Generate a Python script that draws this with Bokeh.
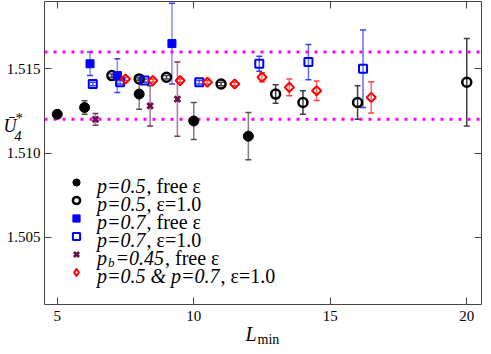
from bokeh.plotting import figure
from bokeh.models import (ColumnDataSource, Whisker, TeeHead, Label, Legend,
                          LegendItem, LinearAxis, FixedTicker, PrintfTickFormatter,
                          CustomJSTickFormatter, Range1d)
from bokeh.core.properties import value
from bokeh.embed import file_html
from bokeh.resources import INLINE
import math

# ---------------- data ----------------
p05_free_L = [5.0, 6.0, 8.0, 10.0, 12.0]
p05_free_U = [1.5123, 1.5127, 1.5135, 1.5119, 1.5110]
p05_free_E = [0.0001, 0.0004, 0.0009, 0.0011, 0.0014]

p05_e1_L = [7.0, 8.0, 9.0, 11.0, 13.0, 14.0, 16.0, 20.0]
p05_e1_U = [1.5146, 1.5144, 1.5145, 1.5141, 1.5135, 1.5130, 1.5130, 1.5142]
p05_e1_E = [0.0001, 0.0001, 0.0001, 0.0001, 0.00055, 0.0007, 0.0010, 0.0026]

p07_free_L = [6.2, 7.2, 9.2]
p07_free_U = [1.5153, 1.5146, 1.5165]
p07_free_E = [0.0007, 0.0010, 0.0024]

p07_e1_L = [6.3, 7.3, 8.2, 10.2, 12.4, 14.2, 16.2]
p07_e1_U = [1.5141, 1.5142, 1.5143, 1.5142, 1.5153, 1.5154, 1.5150]
p07_e1_E = [0.0001, 0.0001, 0.0001, 0.0001, 0.00045, 0.00105, 0.0023]

pb045_L = [6.4, 8.4, 9.4]
pb045_U = [1.5120, 1.5128, 1.5132]
pb045_E = [0.00035, 0.0012, 0.0022]

mix_L = [7.5, 8.5, 9.5, 10.5, 11.5, 12.5, 13.5, 14.5, 16.5]
mix_U = [1.5144, 1.5143, 1.5143, 1.5142, 1.5141, 1.5145, 1.5139, 1.5137, 1.5133]
mix_E = [0.0001, 0.0001, 0.0001, 0.0001, 0.0001, 0.00027, 0.0005, 0.00058, 0.00093]

band_levels = [1.512, 1.516]
x_ticks = [5, 10, 15, 20]
y_ticks = [1.505, 1.510, 1.515]

# legend texts: (text, italic, subscript)
legend_rows = [
    [("p=0.5", True, False), (", free ε", False, False)],
    [("p=0.5", True, False), (", ε=1.0", False, False)],
    [("p=0.7", True, False), (", free ε", False, False)],
    [("p=0.7", True, False), (", ε=1.0", False, False)],
    [("p", True, False), ("b", True, True), ("=0.45", True, False), (", free ε", False, False)],
    [("p=0.5 & p=0.7", True, False), (", ε=1.0", False, False)],
]

# ---------------- layout constants ----------------
SERIF = "Liberation Serif"
AXFONT = "'Liberation Serif', serif"
AX = "#454545"
W, H = 483, 346
X_LEFT, X_RIGHT = 4.532, 20.54     # data box
Y_BOT, Y_TOP = 1.501, 1.519
BOX_L, BOX_R, BOX_T, BOX_B = 44, 481, 1, 304   # box edges, canvas pixels
pxx = (BOX_R - BOX_L) / (X_RIGHT - X_LEFT)
pxy = (BOX_B - BOX_T) / (Y_TOP - Y_BOT)

x_range = Range1d(X_LEFT - BOX_L / pxx, X_RIGHT + (W - BOX_R) / pxx)
y_range = Range1d(Y_BOT - (H - BOX_B) / pxy, Y_TOP + BOX_T / pxy)

p = figure(width=W, height=H, output_backend="svg", toolbar_location=None,
           x_range=x_range, y_range=y_range,
           min_border=0, x_axis_location=None, y_axis_location=None)
p.xgrid.visible = False
p.ygrid.visible = False
p.outline_line_color = None
p.background_fill_color = "white"
p.border_fill_color = "white"


def make_axis(ticks, fmt, labels, standoff, loc, bounds):
    ax = LinearAxis(ticker=FixedTicker(ticks=ticks), fixed_location=loc, bounds=bounds,
                    formatter=fmt if labels else CustomJSTickFormatter(code="return ''"))
    ax.axis_line_color = AX
    ax.major_tick_line_color = AX
    ax.major_tick_in = 7
    ax.major_tick_out = 0
    ax.minor_tick_line_color = None
    ax.major_label_text_font = AXFONT
    ax.major_label_text_font_size = "15px"
    ax.major_label_text_color = "black"
    ax.major_label_standoff = standoff
    return ax


XB = (X_LEFT, X_RIGHT)
YB = (Y_BOT, Y_TOP)
p.add_layout(make_axis(x_ticks, PrintfTickFormatter(format="%d"), True, 6, Y_BOT, XB), "below")
p.add_layout(make_axis(y_ticks, PrintfTickFormatter(format="%.3f"), True, 4, X_LEFT, YB), "left")
p.add_layout(make_axis(x_ticks, None, False, 0, Y_TOP, XB), "above")
p.add_layout(make_axis(y_ticks, None, False, 0, X_RIGHT, YB), "right")

# dotted reference levels across the data box
p.segment(x0=[X_LEFT] * len(band_levels), x1=[X_RIGHT] * len(band_levels),
          y0=band_levels, y1=band_levels, line_color="#ff00ff", line_width=3,
          line_dash="3 6")


def series(L, U, E, marker, size, color, fill, lw, bar, cap, angle=0.0):
    src = ColumnDataSource(dict(x=L, y=U,
                                lo=[u - e for u, e in zip(U, E)],
                                hi=[u + e for u, e in zip(U, E)]))
    wk = Whisker(base="x", upper="hi", lower="lo", source=src, dimension="height",
                 line_color=bar, line_width=1.5,
                 upper_head=TeeHead(size=6, line_color=cap, line_width=1.5),
                 lower_head=TeeHead(size=6, line_color=cap, line_width=1.5))
    p.add_layout(wk)
    return p.scatter("x", "y", source=src, marker=marker, size=size, angle=angle,
                     line_color=color, fill_color=fill, line_width=lw)


rends = [
    series(p05_free_L, p05_free_U, p05_free_E, "circle", 10, "black", "black", 1,
           "#808080", "#505050"),
    series(p05_e1_L, p05_e1_U, p05_e1_E, "circle", 9, "black", None, 2.5,
           "#404040", "#404040"),
    series(p07_free_L, p07_free_U, p07_free_E, "square", 8, "#0000ff", "#0000ff", 1,
           "#8090ff", "#3040ff"),
    series(p07_e1_L, p07_e1_U, p07_e1_E, "square", 8, "#0000ff", None, 2,
           "#6070ff", "#3040ff"),
    series(pb045_L, pb045_U, pb045_E, "x", 8, "#6a0f48", None, 2.8,
           "#a87a98", "#7a3060"),
    series(mix_L, mix_U, mix_E, "square", 6.5, "#ff0000", None, 2,
           "#ff6a6a", "#ff4040", angle=math.pi / 4),
]
# legend key for the diamonds (legend keys are drawn unrotated); no visible data
diamond_key = p.scatter(x=[float("nan")], y=[float("nan")], marker="diamond",
                        line_color="#ff0000", fill_color=None, line_width=2)
keys = rends[:-1] + [diamond_key]

# ---------------- legend ----------------
ROW = 18
GW = 18
LEG_X = 76 - GW / 2              # glyph centre at x ~76
LEG_TOP = 181.5 - ROW / 2        # first row centre at y ~181.5
LEG_Y = H - (LEG_TOP + ROW * len(legend_rows))
leg = Legend(items=[LegendItem(label=value(""), renderers=[r]) for r in keys],
             location=(LEG_X, LEG_Y), glyph_width=GW, glyph_height=ROW,
             label_height=ROW, label_width=0, label_standoff=0, spacing=0,
             padding=0, margin=0, background_fill_alpha=0, border_line_color=None)
p.add_layout(leg)

IT = {"p": 500, "=": 675, ".": 250, " ": 250, "&": 778, "b": 500}
RM = {",": 250, " ": 250, "f": 333, "r": 333, "e": 444, "ε": 440, "=": 564, ".": 250}


def tw(s, size, italic):
    tab = IT if italic else RM
    return sum(tab.get(c, 500) for c in s) * size / 1000.0


def lab(x, y, txt, size, style, baseline="alphabetic"):
    p.add_layout(Label(x=x, y=y, x_units="screen", y_units="screen", text=txt,
                       text_font=SERIF, text_font_size=f"{size}px",
                       text_font_style=style, text_baseline=baseline,
                       text_align="left", text_color="black"))


FS = 20
for i, row in enumerate(legend_rows):
    centre = LEG_TOP + ROW / 2 + ROW * i
    base = H - (centre + 4)
    x = 96.5
    for txt, it, sub in row:
        size = 13 if sub else FS
        lab(x, base - (4 if sub else 0), txt, size, "italic" if it else "normal")
        x += tw(txt, size, it) + (1 if it else 0)

# ---------------- axis titles ----------------
lab(3, 221, "Ū", 18, "italic")
lab(15, 237, "*", 15, "normal", "top")
lab(14, 211, "4", 14, "italic")

lab(245, 13, "L", 20, "italic")
lab(257, 7, "min", 14, "normal")

open("out.html", "w").write(file_html(p, INLINE))
